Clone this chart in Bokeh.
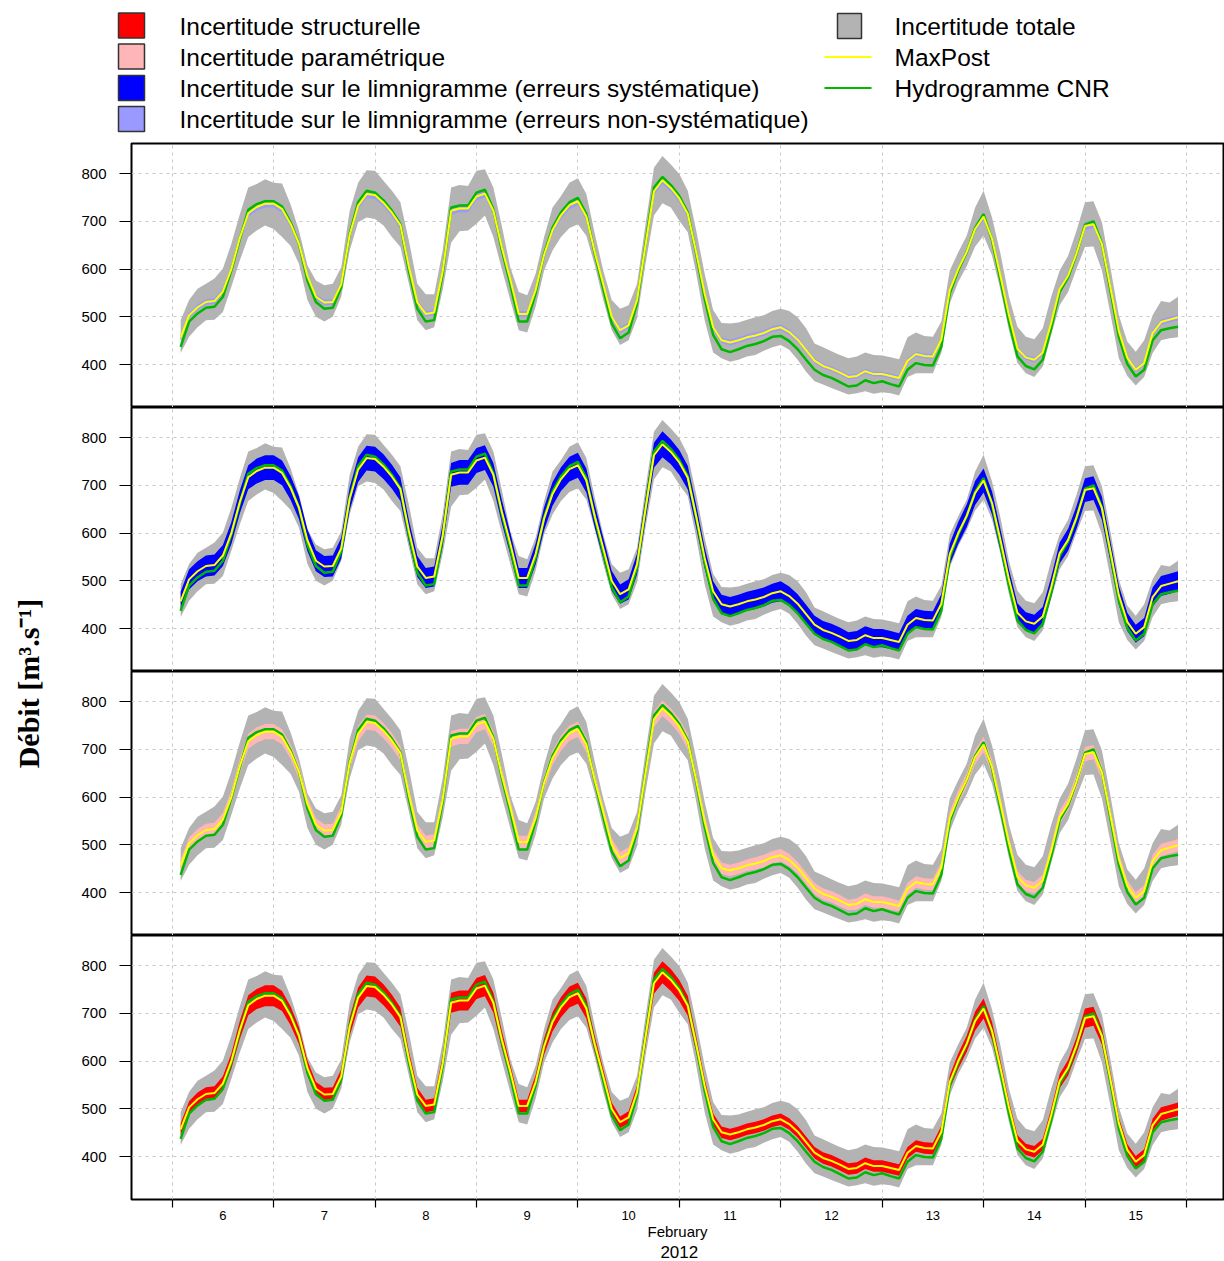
import numpy as np
from bokeh.plotting import figure
from bokeh.layouts import column, row
from bokeh.models import Range1d, FixedTicker
from bokeh.embed import file_html
from bokeh.resources import INLINE
from bokeh.core.properties import value

# time in hours since 6 February 2012 00:00 (2-hourly)
hours = list(range(2, 240, 2))

cnr = [437, 490, 507, 519, 521, 542, 597, 662, 724, 736,
       742, 742, 731, 698, 653, 576, 531, 517, 519, 562,
       674, 740, 764, 760, 744, 722, 694, 597, 517, 490,
       493, 590, 729, 733, 733, 760, 766, 725, 640, 569,
       490, 490, 549, 632, 687, 719, 740, 749, 715, 632,
       559, 486, 455, 467, 528, 653, 771, 793, 776, 753,
       719, 632, 538, 462, 432, 426, 432, 439, 443, 449,
       458, 460, 449, 432, 410, 389, 378, 372, 363, 354,
       356, 367, 361, 365, 359, 354, 389, 403, 399, 398,
       437, 549, 597, 635, 686, 715, 660, 576, 490, 417,
       397, 390, 410, 476, 552, 582, 632, 693, 700, 653,
       556, 458, 401, 375, 389, 451, 472, 476, 479]

maxpost = [457, 503, 520, 531, 533, 553, 600, 665, 717, 730,
           737, 737, 726, 695, 653, 585, 542, 530, 531, 568,
           672, 733, 757, 755, 739, 718, 692, 605, 530, 506,
           509, 595, 722, 727, 727, 752, 758, 722, 645, 578,
           506, 506, 556, 630, 682, 713, 734, 742, 710, 635,
           568, 500, 472, 482, 535, 650, 763, 786, 770, 748,
           716, 635, 548, 478, 451, 446, 451, 457, 461, 466,
           474, 478, 468, 452, 430, 408, 397, 391, 383, 374,
           376, 386, 380, 380, 376, 372, 408, 422, 418, 417,
           452, 556, 600, 636, 684, 710, 663, 585, 503, 433,
           415, 410, 425, 487, 558, 586, 633, 690, 694, 652,
           562, 470, 414, 389, 403, 466, 489, 494, 499]

total_hi = [493, 535, 559, 569, 580, 601, 653, 715, 771, 778,
            788, 781, 779, 736, 681, 608, 576, 566, 569, 604,
            722, 781, 807, 806, 785, 764, 740, 660, 569, 547,
            547, 639, 771, 776, 774, 806, 809, 771, 690, 604,
            552, 545, 590, 667, 729, 753, 781, 790, 757, 674,
            597, 535, 517, 524, 569, 694, 812, 837, 819, 799,
            764, 681, 590, 514, 487, 486, 488, 494, 499, 503,
            512, 517, 512, 499, 476, 444, 436, 428, 420, 413,
            417, 425, 420, 419, 415, 411, 457, 467, 460, 458,
            490, 597, 635, 670, 729, 764, 708, 632, 542, 479,
            458, 453, 476, 542, 597, 628, 681, 740, 742, 698,
            604, 503, 448, 427, 451, 503, 533, 530, 542]

total_lo = [424, 458, 478, 493, 494, 510, 563, 618, 667, 681,
            691, 684, 667, 649, 611, 535, 500, 490, 500, 542,
            639, 698, 708, 705, 691, 667, 646, 569, 493, 472,
            478, 556, 655, 679, 681, 695, 712, 667, 600, 535,
            472, 467, 521, 597, 639, 667, 686, 694, 670, 608,
            535, 472, 441, 451, 497, 611, 712, 738, 729, 701,
            677, 590, 493, 425, 413, 406, 410, 417, 420, 429,
            436, 441, 431, 410, 385, 365, 358, 351, 344, 337,
            340, 344, 339, 342, 340, 335, 374, 382, 382, 382,
            424, 528, 573, 606, 647, 670, 628, 556, 472, 403,
            382, 374, 396, 462, 524, 552, 601, 646, 647, 597,
            507, 413, 376, 356, 374, 424, 451, 455, 457]

# half-widths of the component bands around MaxPost
hw_limni_nonsys = [6, 6, 6, 6, 6, 7, 7, 8, 8, 8,
                   8, 8, 8, 8, 8, 7, 6, 6, 6, 7,
                   8, 8, 8, 8, 8, 8, 8, 7, 6, 6,
                   6, 7, 8, 8, 8, 8, 8, 8, 7, 7,
                   6, 6, 7, 7, 8, 8, 8, 8, 8, 7,
                   7, 6, 6, 6, 6, 8, 8, 8, 8, 8,
                   8, 7, 6, 6, 6, 6, 6, 6, 6, 6,
                   6, 6, 6, 6, 5, 5, 5, 5, 5, 5,
                   5, 5, 5, 5, 5, 5, 5, 5, 5, 5,
                   6, 7, 7, 7, 8, 8, 8, 7, 6, 5,
                   5, 5, 5, 6, 7, 7, 7, 8, 8, 8,
                   7, 6, 5, 5, 5, 6, 6, 6, 6]

hw_limni_sys = [20, 21, 21, 22, 22, 22, 23, 24, 25, 26,
                26, 26, 26, 25, 24, 23, 22, 22, 22, 22,
                24, 26, 26, 26, 26, 25, 25, 23, 22, 21,
                21, 23, 25, 26, 26, 26, 26, 25, 24, 23,
                21, 21, 22, 24, 25, 25, 26, 26, 25, 24,
                22, 21, 20, 21, 22, 24, 26, 27, 26, 26,
                25, 24, 22, 21, 20, 20, 20, 20, 20, 20,
                20, 21, 20, 20, 20, 19, 19, 19, 19, 18,
                19, 19, 19, 19, 19, 18, 19, 19, 19, 19,
                20, 22, 23, 24, 25, 25, 24, 23, 21, 20,
                19, 19, 20, 21, 22, 23, 24, 25, 25, 24,
                22, 20, 19, 19, 19, 20, 21, 21, 21]

hw_param = [12, 13, 13, 13, 13, 14, 14, 15, 16, 16,
            16, 16, 16, 15, 15, 14, 14, 13, 13, 14,
            15, 16, 16, 16, 16, 16, 15, 14, 13, 13,
            13, 14, 16, 16, 16, 16, 16, 16, 15, 14,
            13, 13, 14, 15, 15, 16, 16, 16, 16, 15,
            14, 13, 13, 13, 13, 15, 16, 16, 16, 16,
            16, 15, 14, 13, 12, 12, 12, 12, 13, 13,
            13, 13, 13, 12, 12, 12, 12, 12, 12, 11,
            12, 12, 12, 12, 12, 11, 12, 12, 12, 12,
            12, 14, 14, 15, 15, 16, 15, 14, 13, 12,
            12, 12, 12, 13, 14, 14, 15, 15, 15, 15,
            14, 13, 12, 12, 12, 13, 13, 13, 13]

hw_struct = [12, 13, 14, 14, 14, 15, 16, 19, 21, 21,
             22, 22, 21, 20, 18, 16, 14, 14, 14, 15,
             19, 21, 22, 22, 22, 21, 20, 16, 14, 13,
             13, 16, 21, 21, 21, 22, 22, 21, 18, 15,
             13, 13, 15, 17, 20, 21, 22, 22, 21, 17,
             15, 13, 12, 13, 14, 18, 22, 23, 23, 22,
             21, 17, 14, 12, 12, 12, 12, 12, 12, 12,
             12, 12, 12, 12, 12, 12, 12, 12, 12, 12,
             12, 12, 12, 12, 12, 12, 12, 12, 12, 12,
             12, 14, 16, 17, 20, 21, 19, 15, 13, 12,
             12, 12, 12, 13, 15, 16, 17, 20, 20, 18,
             15, 12, 12, 12, 12, 13, 14, 14, 14]

day_bounds = [0, 24, 48, 72, 96, 120, 144, 168, 192, 216, 240]
day_centers = [12, 36, 60, 84, 108, 132, 156, 180, 204, 228]
day_labels = ["6", "7", "8", "9", "10", "11", "12", "13", "14", "15"]
y_ticks = [400, 500, 600, 700, 800]
month_label = "February"
year_label = "2012"

legend_left = ["Incertitude structurelle",
               "Incertitude paramétrique",
               "Incertitude sur le limnigramme (erreurs systématique)",
               "Incertitude sur le limnigramme (erreurs non-systématique)"]
legend_right = ["Incertitude totale", "MaxPost", "Hydrogramme CNR"]

FONT = "Liberation Sans"
GRAY = "#B3B3B3"
RED = "#FF0000"
PINK = "#FFB6B6"
BLUE = "#0000FF"
LBLUE = "#9999FF"
YELLOW = "#FFFF00"
GREEN = "#00B800"

xr = Range1d(-9.63, 248.77)
BOTTOM = 43
YEAR_H = 19


def band(hw):
    lo = [m - w for m, w in zip(maxpost, hw)]
    hi = [m + w for m, w in zip(maxpost, hw)]
    return lo, hi


def make_panel(hw, color, top_border=0, bottom=False):
    h = 264 + top_border + (BOTTOM if bottom else 0)
    p = figure(width=1166, height=h, x_range=xr, y_range=Range1d(310, 863),
               output_backend="svg", toolbar_location=None,
               min_border_left=73, min_border_right=1,
               min_border_top=top_border,
               min_border_bottom=(BOTTOM if bottom else 0))
    p.background_fill_color = "white"
    p.outline_line_color = "black"
    p.outline_line_width = 2
    p.xgrid.ticker = FixedTicker(ticks=day_bounds)
    p.ygrid.ticker = FixedTicker(ticks=y_ticks)
    for g in (p.xgrid, p.ygrid):
        g.grid_line_color = "#C8C8C8"
        g.grid_line_dash = "3 4"
        g.grid_line_width = 1

    p.yaxis.ticker = FixedTicker(ticks=y_ticks)
    p.yaxis.axis_line_color = None
    p.yaxis.major_tick_out = 12
    p.yaxis.major_tick_in = 0
    p.yaxis.minor_tick_line_color = None
    p.yaxis.major_tick_line_color = "black"
    p.yaxis.major_label_standoff = 13
    p.yaxis.major_label_text_font = FONT
    p.yaxis.major_label_text_font_size = "15px"
    p.yaxis.major_label_text_color = "black"

    if bottom:
        ax = p.xaxis[0]
        ax.ticker = FixedTicker(ticks=day_centers, minor_ticks=day_bounds)
        ax.major_label_overrides = {c: l for c, l in zip(day_centers, day_labels)}
        ax.axis_line_color = None
        ax.major_tick_out = 0
        ax.major_tick_in = 0
        ax.major_tick_line_color = None
        ax.minor_tick_out = 8
        ax.minor_tick_in = 0
        ax.minor_tick_line_color = "black"
        ax.minor_tick_line_width = 1.2
        ax.major_label_standoff = 3
        ax.major_label_text_font = FONT
        ax.major_label_text_font_size = "13px"
        ax.major_label_text_color = "black"
        ax.axis_label = month_label
        ax.axis_label_standoff = 0
        ax.axis_label_text_font = FONT
        ax.axis_label_text_font_size = "15px"
        ax.axis_label_text_font_style = "normal"
        ax.axis_label_text_color = "black"
    else:
        p.xaxis.visible = False

    p.varea(x=hours, y1=total_lo, y2=total_hi, fill_color=GRAY)
    lo, hi = band(hw)
    p.varea(x=hours, y1=lo, y2=hi, fill_color=color)
    p.line(hours, cnr, line_color=GREEN, line_width=2.5)
    p.line(hours, maxpost, line_color=YELLOW, line_width=2)
    return p


p1 = make_panel(hw_limni_nonsys, LBLUE, top_border=1)
p2 = make_panel(hw_limni_sys, BLUE)
p3 = make_panel(hw_param, PINK)
p4 = make_panel(hw_struct, RED, bottom=True)

# year strip under the x axis (shares the x range)
yr = figure(width=1166, height=YEAR_H, x_range=xr, y_range=Range1d(0, 1),
            output_backend="svg", toolbar_location=None,
            min_border_left=73, min_border_right=1, min_border_top=0, min_border_bottom=0)
yr.axis.visible = False
yr.grid.visible = False
yr.outline_line_color = None
yr.text(x=[day_bounds[5]], y=[0.5], text=[year_label], text_font=value(FONT),
        text_font_size="17px", text_align="center", text_baseline="middle",
        text_color="black")

# legend strip (page coordinates)
leg = figure(width=1224, height=142, x_range=Range1d(0, 1224), y_range=Range1d(142, 0),
             output_backend="svg", toolbar_location=None, min_border=0)
leg.axis.visible = False
leg.grid.visible = False
leg.outline_line_color = None
leg.rect(x=[131, 131, 131, 131], y=[25, 56, 87.5, 118.5], width=26, height=25,
         fill_color=[RED, PINK, BLUE, LBLUE], line_color="#333333", line_width=1.5)
leg.rect(x=[849], y=[25.5], width=24, height=25, fill_color=GRAY,
         line_color="#333333", line_width=1.5)
leg.segment(x0=[824, 824], y0=[56.5, 87.5], x1=[871, 871], y1=[56.5, 87.5],
            line_color=[YELLOW, GREEN], line_width=2)
leg.text(x=[179, 179, 179, 179], y=[26, 57, 88, 119], text=legend_left,
         text_font=value(FONT), text_font_size="24.5px", text_baseline="middle",
         text_color="black")
leg.text(x=[894, 894, 894], y=[26, 57, 88], text=legend_right,
         text_font=value(FONT), text_font_size="24.5px", text_baseline="middle",
         text_color="black")

# y label strip (normal y range, page y measured from the bottom)
panels_h = 265 + 264 + 264 + 264 + BOTTOM + YEAR_H
yfig = figure(width=58, height=panels_h, x_range=Range1d(0, 58),
              y_range=Range1d(0, panels_h),
              output_backend="svg", toolbar_location=None, min_border=0)
yfig.axis.visible = False
yfig.grid.visible = False
yfig.outline_line_color = None
yfig.text(x=[28], y=[142 + panels_h - 683], text=["Débit [m³.s⁻¹]"], angle=np.pi / 2,
          text_font=value("Liberation Serif"), text_font_style="bold",
          text_font_size="30px", text_align="center", text_baseline="middle",
          text_color="black")

layout = column(leg, row(yfig, column(p1, p2, p3, p4, yr)))
open("out.html", "w").write(file_html(layout, INLINE))
